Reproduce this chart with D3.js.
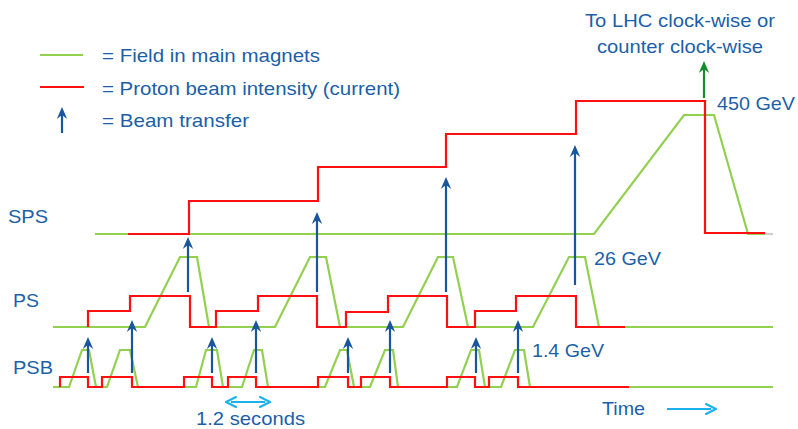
<!DOCTYPE html>
<html><head><meta charset="utf-8">
<script src="https://cdn.jsdelivr.net/npm/d3@7"></script>
<style>
html,body{margin:0;padding:0;background:#fff;}
svg{display:block;}
text{font-family:"Liberation Sans",Arial,sans-serif;}
</style></head>
<body>
<svg id="c" width="798" height="429"></svg>
<script>
// ---- data (time units along the cycle, heights above each ring's baseline) ----
const rings = ["SPS", "PS", "PSB"];
const ringBase = [234, 327, 387];

// SPS
const spsFieldT = [95, 594, 684, 714, 748, 765];
const spsFieldV = [0, 0, 119, 119, 0, 0];
const spsTailT = [765, 773];
const spsTailV = [0, 0];
const spsBeamT = [128, 189, 189, 318, 318, 446, 446, 576, 576, 705, 705, 765];
const spsBeamV = [0, 0, 33, 33, 67, 67, 100, 100, 133, 133, 1, 1];

// PS
const psFieldT = [53, 145, 180, 197, 209, 275, 310, 326, 340, 403, 438, 453, 468, 533, 569, 585, 599, 773];
const psFieldV = [0, 0, 70, 70, 0, 0, 70, 70, 0, 0, 70, 70, 0, 0, 70, 70, 0, 0];
const psBeamT = [88, 88, 130, 130, 190, 190, 216, 216, 258, 258, 317, 317, 346, 346, 388, 388, 447, 447, 475, 475, 516, 516, 576, 576, 625];
const psBeamV = [0, 16, 16, 31, 31, 0, 0, 16, 16, 31, 31, 0, 0, 15, 15, 31, 31, 0, 0, 16, 16, 31, 31, 0, 0];

// PSB
const psbFieldT = [53, 69, 82, 89, 96, 107, 120, 130, 138, 196, 206, 217, 223, 242, 254, 262, 268, 325, 340, 347, 354, 370, 385, 393, 398, 457, 471, 479, 485, 501, 515, 524, 530, 773];
const psbFieldV = [0, 0, 37, 37, 0, 0, 37, 37, 0, 0, 37, 37, 0, 0, 37, 37, 0, 0, 37, 37, 0, 0, 37, 37, 0, 0, 37, 37, 0, 0, 37, 37, 0, 0];
const psbBeamT = [60, 60, 88, 88, 102, 102, 132, 132, 184, 184, 212, 212, 228, 228, 256, 256, 318, 318, 348, 348, 361, 361, 390, 390, 447, 447, 475, 475, 489, 489, 518, 518, 629];
const psbBeamV = [0, 10, 10, 0, 0, 10, 10, 0, 0, 10, 10, 0, 0, 10, 10, 0, 0, 10, 10, 0, 0, 10, 10, 0, 0, 10, 10, 0, 0, 10, 10, 0, 0];

// beam transfers PSB -> PS (from PSB ring, heights relative to PS baseline)
const psbXferT = [88, 132, 212, 256, 348, 390, 476, 518];
const psbXferFrom = [14, 14, 14, 14, 14, 14, 14, 14];   // above PSB baseline
const psbXferTo = [-10, 7, -10, 7, -10, 7, -10, 7];     // relative to PS baseline
// PS -> SPS
const psXferT = [188, 317, 446, 575];
const psXferFrom = [35, 35, 35, 42];                    // above PS baseline
const psXferTo = [-3, 22, 57, 89];                      // relative to SPS baseline
// extraction to LHC
const lhcXferT = [704];
const lhcXferFrom = [136];
const lhcXferTo = [173];

// texts
const legendLabels = ["= Field in main magnets", "= Proton beam intensity (current)", "= Beam transfer"];
const energyLabels = ["450 GeV", "26 GeV", "1.4 GeV"];
const lhcLines = ["To LHC clock-wise or", "counter clock-wise"];
const timeLabel = "Time";
const periodLabel = "1.2 seconds";

// ---- drawing ----
const svg = d3.select("#c");
const W = 798, H = 429;
const x = d3.scaleLinear().domain([0, W]).range([0, W]);
const ringY = d3.scaleOrdinal().domain(rings).range(ringBase);
const h = d3.scaleLinear().domain([0, 200]).range([0, -200]);
const yAt = (ring, v) => ringY(ring) + h(v);

const C = {
  green: "#92d050", red: "#ff1010", blue: "#1a569c", text: "#1c5fa8",
  light: "#1ab2ee", dgreen: "#178a2c", grey: "#cfcfcf"
};

function trace(ring, T, V, color, w) {
  const pts = T.map((t, i) => [x(t), yAt(ring, V[i])]);
  svg.append("path").attr("d", d3.line()(pts))
    .attr("fill", "none").attr("stroke", color).attr("stroke-width", w || 2.2)
    .attr("stroke-linejoin", "miter");
}

function arrowHead(g, x0, y0, dir, color, size) {
  const s = size || 1;
  const L = 12 * s, Wd = 5.2 * s, notch = 8 * s;
  const p = `M${x0},${y0} L${x0 + Wd},${y0 - dir * L} L${x0},${y0 - dir * notch} L${x0 - Wd},${y0 - dir * L} Z`;
  g.append("path").attr("d", p).attr("fill", color);
}

function vArrow(xp, yFrom, yTo, color, w) {
  const g = svg.append("g");
  const dir = yTo < yFrom ? -1 : 1;
  g.append("line").attr("x1", xp).attr("x2", xp).attr("y1", yFrom).attr("y2", yTo - dir * 6)
    .attr("stroke", color).attr("stroke-width", w || 2.2);
  arrowHead(g, xp, yTo, dir, color);
}

function hArrow(x1, x2, yp, color, both) {
  const g = svg.append("g");
  g.append("line").attr("x1", x1 + (both ? 5 : 0)).attr("x2", x2 - 5).attr("y1", yp).attr("y2", yp)
    .attr("stroke", color).attr("stroke-width", 2);
  const head = (xt, d) => g.append("path")
    .attr("d", `M${xt},${yp} L${xt - d * 10},${yp - 5} M${xt},${yp} L${xt - d * 10},${yp + 5}`)
    .attr("stroke", color).attr("stroke-width", 2).attr("fill", "none").attr("stroke-linecap", "round");
  head(x2, 1);
  if (both) head(x1, -1);
}

function label(txt, xp, yp, len, anchor, size) {
  const t = svg.append("text").attr("x", xp).attr("y", yp).text(txt)
    .attr("fill", C.text).attr("font-size", size || 19)
    .attr("text-anchor", anchor || "start");
  if (len) t.attr("textLength", len).attr("lengthAdjust", "spacingAndGlyphs");
  return t;
}

// legend
svg.append("line").attr("x1", 40).attr("x2", 83).attr("y1", 55).attr("y2", 55).attr("stroke", C.green).attr("stroke-width", 2.2);
svg.append("line").attr("x1", 40).attr("x2", 84).attr("y1", 87).attr("y2", 87).attr("stroke", C.red).attr("stroke-width", 2.2);
vArrow(62, 133, 107, C.blue, 2.2);
const legendLen = [218, 298, 147];
const legendY = [62, 95, 127];
legendLabels.forEach((s, i) => label(s, 102, legendY[i], legendLen[i]));

// ring labels
const ringLabelX = [8, 13, 13], ringLabelY = [223, 307, 374], ringLabelLen = [40, 26, 40];
rings.forEach((r, i) => label(r, ringLabelX[i], ringLabelY[i], ringLabelLen[i]));

// field traces (green) first, then beam (red)
trace("SPS", spsFieldT, spsFieldV, C.green);
trace("SPS", spsTailT, spsTailV, C.grey);
trace("PS", psFieldT, psFieldV, C.green);
trace("PSB", psbFieldT, psbFieldV, C.green);
trace("SPS", spsBeamT, spsBeamV, C.red);
trace("PS", psBeamT, psBeamV, C.red);
trace("PSB", psbBeamT, psbBeamV, C.red);

// transfers
psbXferT.forEach((t, i) => vArrow(x(t), yAt("PSB", psbXferFrom[i]), yAt("PS", psbXferTo[i]), C.blue));
psXferT.forEach((t, i) => vArrow(x(t), yAt("PS", psXferFrom[i]), yAt("SPS", psXferTo[i]), C.blue));
lhcXferT.forEach((t, i) => vArrow(x(t), yAt("SPS", lhcXferFrom[i]), yAt("SPS", lhcXferTo[i]), C.dgreen));

// energy labels
label(energyLabels[0], 717, 110, 78);
label(energyLabels[1], 594, 265, 67);
label(energyLabels[2], 532, 357, 72);

// LHC text
label(lhcLines[0], 680, 27, 190, "middle");
label(lhcLines[1], 680, 53, 166, "middle");

// time
label(timeLabel, 602, 415, 43);
hArrow(667, 716, 409, C.light, false);
label(periodLabel, 196, 425, 109);
hArrow(226, 270, 402, C.light, true);
</script>
</body></html>
